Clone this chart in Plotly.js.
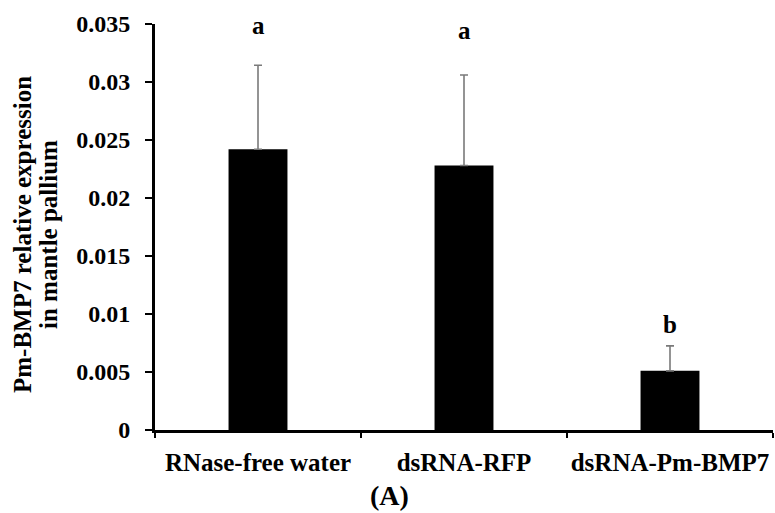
<!DOCTYPE html>
<html><head><meta charset="utf-8">
<script src="https://cdn.plot.ly/plotly-3.0.1.min.js"></script>
<style>html,body{margin:0;padding:0;background:#fff}#c{width:775px;height:513px}</style>
</head><body><div id="c"></div>
<script>
const categories = ["RNase-free water", "dsRNA-RFP", "dsRNA-Pm-BMP7"];
const means = [0.0242, 0.0228, 0.0051];
const errUpper = [0.00725, 0.0078, 0.00215];
const letters = ["a", "a", "b"];
const letterY = [0.0349, 0.0344, 0.0091];
const tickVals = [0, 0.005, 0.01, 0.015, 0.02, 0.025, 0.03, 0.035];
const tickText = ["0", "0.005", "0.01", "0.015", "0.02", "0.025", "0.03", "0.035"];
const yTitleLines = ["Pm-BMP7 relative expression", "in mantle pallium"];
const panelLabel = "(A)";

const serif = "Liberation Serif, Times New Roman, serif";
const W = 775, H = 513, L = 155, R = 2, T = 24, B = 83;
const pw = W - L - R, ph = H - T - B;
const px = x => (x - L) / pw;
const py = y => (H - B - y) / ph;

const trace = {
  type: "bar", x: categories, y: means, width: 0.286,
  marker: {color: "#000000", line: {width: 0}},
  error_y: {type: "data", symmetric: false, array: errUpper, arrayminus: [0,0,0],
            color: "#7a7a7a", thickness: 1.6, width: 4},
  hoverinfo: "none"
};
const annotations = letters.map((t, i) => ({
  x: categories[i], y: letterY[i], xref: "x", yref: "y", text: "<b>" + t + "</b>",
  showarrow: false, font: {family: serif, size: 25, color: "#000"}
}));
yTitleLines.forEach((t, i) => annotations.push({
  x: px(i === 0 ? 22 : 48), y: py(235), xref: "paper", yref: "paper",
  text: "<b>" + t + "</b>", textangle: -90, showarrow: false,
  xanchor: "center", yanchor: "middle",
  font: {family: serif, size: 25, color: "#000"}
}));
annotations.push({x: px(389), y: py(495), xref: "paper", yref: "paper",
  text: "<b>" + panelLabel + "</b>", showarrow: false,
  xanchor: "center", yanchor: "middle",
  font: {family: serif, size: 28, color: "#000"}});

const layout = {
  width: W, height: H,
  margin: {l: L, r: R, t: T, b: B},
  paper_bgcolor: "#fff", plot_bgcolor: "#fff",
  showlegend: false,
  xaxis: {type: "category", showline: true, linecolor: "#000", linewidth: 3,
    ticks: "outside", tickson: "boundaries", ticklen: 5, tickwidth: 2, tickcolor: "#000",
    ticklabelstandoff: 8, tickangle: 0,
    tickfont: {family: serif, size: 25, color: "#000", weight: "bold"},
    showgrid: false, zeroline: false, range: [-0.5, 2.5]},
  yaxis: {range: [0, 0.035], showline: true, linecolor: "#000", linewidth: 3,
    ticks: "outside", ticklen: 7, tickwidth: 2, tickcolor: "#000",
    ticklabelstandoff: 10,
    tickvals: tickVals, ticktext: tickText,
    tickfont: {family: serif, size: 24, color: "#000", weight: "bold"},
    showgrid: false, zeroline: false},
  annotations: annotations
};
Plotly.newPlot("c", [trace], layout, {displayModeBar: false, staticPlot: true});
</script></body></html>
